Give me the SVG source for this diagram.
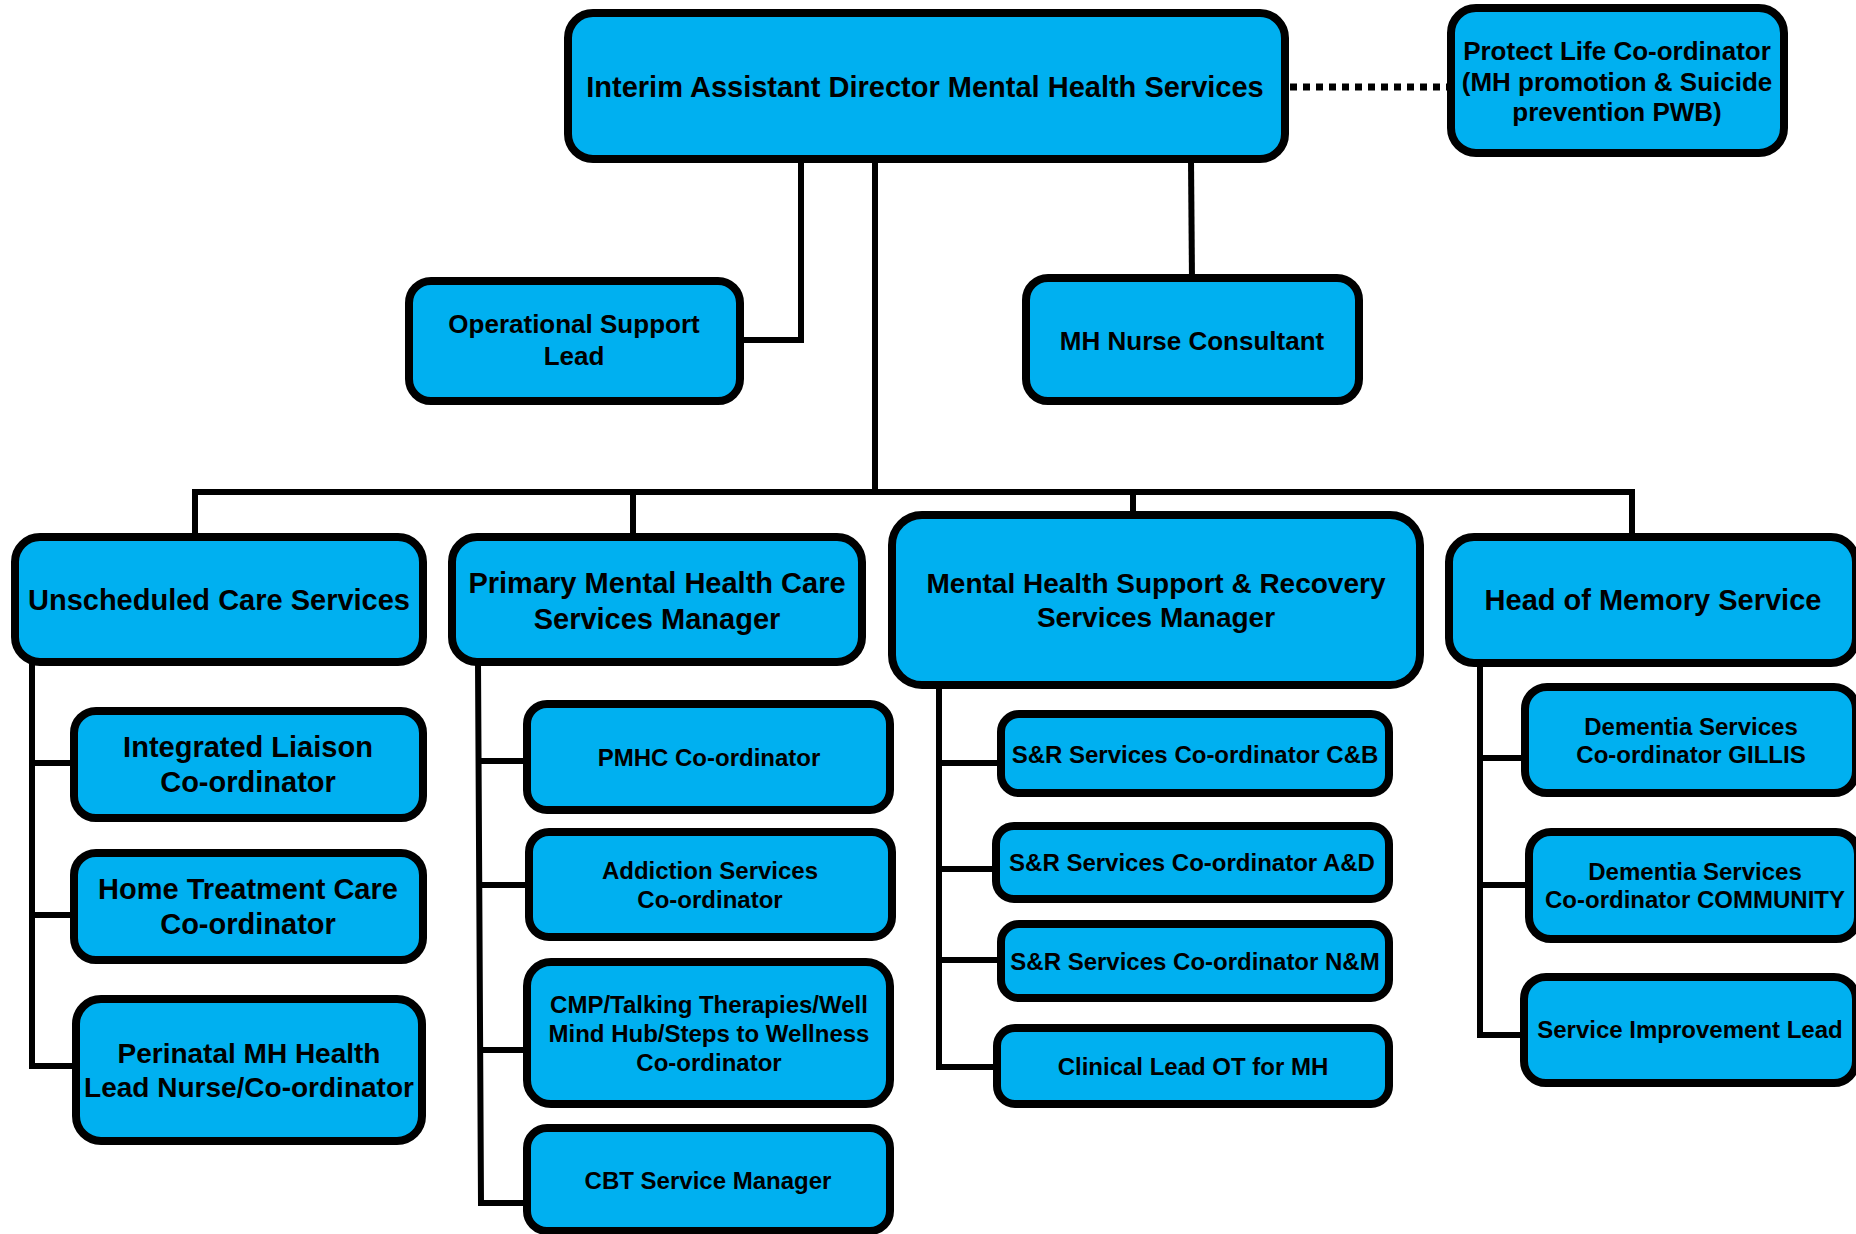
<svg xmlns="http://www.w3.org/2000/svg" width="1856" height="1234" viewBox="0 0 1856 1234">
<style>
.box{fill:#00B0F0;stroke:#000;stroke-width:8}
.t{font-family:"Liberation Sans",Arial,sans-serif;font-weight:bold;text-anchor:middle;fill:#000}
.f29{font-size:29px}.f28{font-size:28px}.f26{font-size:26px}.f24{font-size:24px}
.conn{stroke:#000;stroke-width:6;fill:none;stroke-linejoin:miter}
.dot{stroke:#000;stroke-width:7;fill:none;stroke-dasharray:7 6}
</style>
<rect width="1856" height="1234" fill="#fff"/>
<g id="connectors">
<path class="conn" d="M801,160 V340 H742"/>
<path class="conn" d="M875,160 V492"/>
<path class="conn" d="M1191,160 L1192,281"/>
<path class="conn" d="M195,540 V492 H1632 V540"/>
<path class="conn" d="M633,492 V540"/>
<path class="conn" d="M1133,492 V518"/>
<path class="conn" d="M32,662 V1066 H80"/>
<path class="conn" d="M32,763 H78"/>
<path class="conn" d="M32,915 H78"/>
<path class="conn" d="M478,662 L481,1203 H530"/>
<path class="conn" d="M479,761 H530"/>
<path class="conn" d="M480,885 H532"/>
<path class="conn" d="M480,1050 H530"/>
<path class="conn" d="M939,684 V1067 H1000"/>
<path class="conn" d="M939,763 H1004"/>
<path class="conn" d="M939,869 H999"/>
<path class="conn" d="M939,960 H1004"/>
<path class="conn" d="M1480,662 V1035 H1527"/>
<path class="conn" d="M1480,758 H1528"/>
<path class="conn" d="M1480,885 H1532"/>
<path class="dot" d="M1290,87 H1447"/>
</g>
<g id="director"><rect class="box" x="568" y="13" width="717" height="146" rx="25"/><text class="t f29" x="925" y="97">Interim Assistant Director Mental Health Services</text></g>
<g id="protect-life"><rect class="box" x="1451" y="8" width="333" height="145" rx="25"/><text class="t f26" x="1617" y="60">Protect Life Co-ordinator</text><text class="t f26" x="1617" y="91">(MH promotion &amp; Suicide</text><text class="t f26" x="1617" y="121">prevention PWB)</text></g>
<g id="op-support"><rect class="box" x="409" y="281" width="331" height="120" rx="22"/><text class="t f26" x="574" y="333">Operational Support</text><text class="t f26" x="574" y="365">Lead</text></g>
<g id="nurse-consultant"><rect class="box" x="1026" y="278" width="333" height="123" rx="22"/><text class="t f26" x="1192" y="350">MH Nurse Consultant</text></g>
<g id="unscheduled"><rect class="box" x="15" y="537" width="408" height="125" rx="25"/><text class="t f29" x="219" y="610">Unscheduled Care Services</text></g>
<g id="primary"><rect class="box" x="452" y="537" width="410" height="125" rx="25"/><text class="t f29" x="657" y="593">Primary Mental Health Care</text><text class="t f29" x="657" y="629">Services Manager</text></g>
<g id="support-recovery"><rect class="box" x="892" y="515" width="528" height="170" rx="30"/><text class="t f28" x="1156" y="593">Mental Health Support &amp; Recovery</text><text class="t f28" x="1156" y="627">Services Manager</text></g>
<g id="memory"><rect class="box" x="1449" y="537" width="407" height="126" rx="25"/><text class="t f29" x="1653" y="610">Head of Memory Service</text></g>
<g id="integrated-liaison"><rect class="box" x="74" y="711" width="349" height="107" rx="22"/><text class="t f29" x="248" y="757">Integrated Liaison</text><text class="t f29" x="248" y="792">Co-ordinator</text></g>
<g id="home-treatment"><rect class="box" x="74" y="853" width="349" height="107" rx="22"/><text class="t f29" x="248" y="899">Home Treatment Care</text><text class="t f29" x="248" y="934">Co-ordinator</text></g>
<g id="perinatal"><rect class="box" x="76" y="999" width="346" height="142" rx="25"/><text class="t f28" x="249" y="1063">Perinatal MH Health</text><text class="t f28" x="249" y="1097">Lead Nurse/Co-ordinator</text></g>
<g id="pmhc"><rect class="box" x="527" y="704" width="363" height="106" rx="20"/><text class="t f24" x="709" y="766">PMHC Co-ordinator</text></g>
<g id="addiction"><rect class="box" x="529" y="832" width="363" height="105" rx="20"/><text class="t f24" x="710" y="879">Addiction Services</text><text class="t f24" x="710" y="908">Co-ordinator</text></g>
<g id="cmp"><rect class="box" x="527" y="962" width="363" height="142" rx="24"/><text class="t f24" x="709" y="1013">CMP/Talking Therapies/Well</text><text class="t f24" x="709" y="1042">Mind Hub/Steps to Wellness</text><text class="t f24" x="709" y="1071">Co-ordinator</text></g>
<g id="cbt"><rect class="box" x="527" y="1128" width="363" height="103" rx="20"/><text class="t f24" x="708" y="1189">CBT Service Manager</text></g>
<g id="sr-cb"><rect class="box" x="1001" y="714" width="388" height="79" rx="18"/><text class="t f24" x="1195" y="763">S&amp;R Services Co-ordinator C&amp;B</text></g>
<g id="sr-ad"><rect class="box" x="996" y="826" width="393" height="73" rx="18"/><text class="t f24" x="1192" y="871">S&amp;R Services Co-ordinator A&amp;D</text></g>
<g id="sr-nm"><rect class="box" x="1001" y="924" width="388" height="74" rx="18"/><text class="t f24" x="1195" y="970">S&amp;R Services Co-ordinator N&amp;M</text></g>
<g id="clinical-ot"><rect class="box" x="997" y="1028" width="392" height="76" rx="18"/><text class="t f24" x="1193" y="1075">Clinical Lead OT for MH</text></g>
<g id="dementia-gillis"><rect class="box" x="1525" y="687" width="331" height="106" rx="22"/><text class="t f24" x="1691" y="735">Dementia Services</text><text class="t f24" x="1691" y="763">Co-ordinator GILLIS</text></g>
<g id="dementia-community"><rect class="box" x="1529" y="832" width="329" height="107" rx="22"/><text class="t f24" x="1695" y="880">Dementia Services</text><text class="t f24" x="1695" y="908">Co-ordinator COMMUNITY</text></g>
<g id="service-improvement"><rect class="box" x="1524" y="977" width="332" height="106" rx="22"/><text class="t f24" x="1690" y="1038">Service Improvement Lead</text></g>
</svg>
